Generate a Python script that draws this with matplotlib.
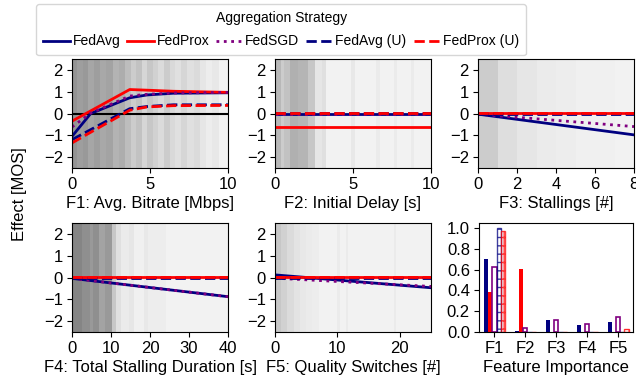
import matplotlib
matplotlib.use('Agg')
import matplotlib.pyplot as plt

plt.rcParams['font.family'] = ['Liberation Sans', 'DejaVu Sans']

strategies = ['FedAvg', 'FedProx', 'FedSGD', 'FedAvg (U)', 'FedProx (U)']
colors = ['#000080', 'red', 'purple', '#000080', 'red']
styles = ['-', '-', ':', '--', '--']

# partial dependence curves (x grid + effect per strategy)
f1_x = [0, 1.2, 3.7, 4.8, 6.5, 10]
f1_y = [[-1.05, 0.0, 0.72, 0.85, 0.93, 0.95],
        [-0.35, 0.12, 1.1, 1.07, 1.02, 0.97],
        [-0.62, 0.02, 0.8, 0.88, 0.94, 0.97],
        [-1.2, -0.74, 0.22, 0.32, 0.4, 0.4],
        [-1.35, -0.86, 0.15, 0.3, 0.36, 0.37]]

f2_x = [0, 10]
f2_y = [[0.0, 0.0], [-0.62, -0.62], [-0.04, -0.04], [0.02, 0.02], [0.03, 0.03]]

f3_x = [0, 8]
f3_y = [[-0.03, -0.98], [0.02, 0.02], [-0.03, -0.6], [0.0, 0.0], [0.02, 0.02]]

f4_x = [0, 40]
f4_y = [[-0.04, -0.88], [0.02, 0.02], [-0.04, -0.88], [0.0, 0.0], [0.02, 0.02]]

f5_x = [0, 25]
f5_y = [[0.12, -0.47], [0.02, 0.02], [-0.03, -0.41], [0.0, 0.0], [0.02, 0.02]]

# data density shading behind each feature
f1_edges = [0, 0.3, 0.7, 1.0, 1.4, 1.8, 2.2, 2.6, 3.0, 3.4, 3.8, 4.1, 4.5, 4.8,
            5.2, 5.5, 5.9, 6.3, 6.6, 7.0, 7.4, 7.8, 8.2, 8.6, 9.0, 9.4, 10]
f1_gray = [0.58, 0.62, 0.6, 0.65, 0.62, 0.66, 0.64, 0.7, 0.68, 0.74, 0.8, 0.76, 0.84,
           0.78, 0.82, 0.86, 0.8, 0.85, 0.88, 0.84, 0.88, 0.86, 0.9, 0.93, 0.91, 0.95]
f2_edges = [0, 0.4, 0.6, 0.95, 1.5, 2.1, 2.55, 3.0, 3.3, 4.9, 5.1, 6.5, 6.7, 7.6, 7.8, 8.7, 8.9, 10]
f2_gray = [0.72, 0.8, 0.76, 0.69, 0.71, 0.78, 0.9, 0.88, 0.95, 0.91, 0.95, 0.92,
           0.95, 0.92, 0.95, 0.92, 0.95]
f3_edges = [0, 1, 2, 3, 4, 5, 6, 7, 8]
f3_gray = [0.8, 0.87, 0.9, 0.92, 0.93, 0.94, 0.94, 0.95]
f4_edges = [0, 2.5, 4.5, 5.5, 7.0, 8.5, 10.2, 11.3, 12.5, 14.5, 16.0, 18.5, 19.5, 24.0, 40]
f4_gray = [0.52, 0.56, 0.6, 0.56, 0.64, 0.6, 0.78, 0.88, 0.92, 0.9, 0.94, 0.91, 0.93, 0.95]
f5_edges = [0, 1, 2, 3, 4, 5, 6, 7, 10, 10.4, 11.3, 11.7, 19, 19.4, 25]
f5_gray = [0.78, 0.82, 0.86, 0.89, 0.91, 0.92, 0.93, 0.95, 0.92, 0.95, 0.92, 0.95, 0.92, 0.95]

xlabels = ['F1: Avg. Bitrate [Mbps]', 'F2: Initial Delay [s]', 'F3: Stallings [#]',
           'F4: Total Stalling Duration [s]', 'F5: Quality Switches [#]']
xticks = [[0, 5, 10], [0, 5, 10], [0, 2, 4, 6, 8], [0, 10, 20, 30, 40], [0, 10, 20]]

# feature importance
features = ['F1', 'F2', 'F3', 'F4', 'F5']
importance = [[0.70, 0.005, 0.12, 0.07, 0.10],
              [0.39, 0.61, 0.0, 0.0, 0.0],
              [0.63, 0.04, 0.12, 0.08, 0.14],
              [1.0, 0.0, 0.0, 0.0, 0.0],
              [0.97, 0.0, 0.0, 0.0, 0.03]]

fig = plt.figure(figsize=(6.36, 3.81), dpi=100)
W, H = 636, 381
pos = [(72, 59), (275, 59), (478, 59), (72, 223), (275, 223)]
panels = [(f1_x, f1_y, f1_edges, f1_gray), (f2_x, f2_y, f2_edges, f2_gray),
          (f3_x, f3_y, f3_edges, f3_gray), (f4_x, f4_y, f4_edges, f4_gray),
          (f5_x, f5_y, f5_edges, f5_gray)]

fs = 12
handles = []
for i, (px, py) in enumerate(pos):
    ax = fig.add_axes([px / W, 1 - (py + 109) / H, 156 / W, 109 / H])
    xs, ys, edges, grays = panels[i]
    for k in range(len(grays)):
        ax.axvspan(edges[k], edges[k + 1], color=str(grays[k]), lw=0, zorder=0)
    if i == 0:
        ax.axhline(0, color='black', lw=1.5, zorder=1)
    for j in range(5):
        l, = ax.plot(xs, ys[j], color=colors[j], ls=styles[j], lw=2, zorder=2)
        if i == 0:
            handles.append(l)
    ax.set_xlim(xs[0], xs[-1])
    ax.set_ylim(-2.5, 2.5)
    ax.set_yticks([-2, -1, 0, 1, 2])
    ax.set_xticks(xticks[i])
    ax.set_xlabel(xlabels[i], fontsize=fs, labelpad=3)
    ax.tick_params(labelsize=fs, pad=3)

# bar chart
ax = fig.add_axes([479 / W, 1 - 332 / H, 154 / W, 109 / H])
bw = 0.13
idx = list(range(len(features)))
for j in range(5):
    xb = [v + (j - 2) * bw for v in idx]
    if j < 2:
        ax.bar(xb, importance[j], bw, color=colors[j], lw=0)
    elif j == 2:
        ax.bar(xb, importance[j], bw, facecolor='none', edgecolor='purple', lw=1.2)
    else:
        ax.bar(xb, importance[j], bw, facecolor='none', edgecolor=colors[j],
               hatch='++', lw=1.0, alpha=0.75)
ax.set_xticks(idx)
ax.set_xticklabels(features)
ax.set_xlim(-0.5, 4.47)
ax.set_ylim(0, 1.05)
ax.set_yticks([0.0, 0.2, 0.4, 0.6, 0.8, 1.0])
ax.set_xlabel('Feature Importance', fontsize=fs, labelpad=3)
ax.tick_params(labelsize=fs, pad=3)

fig.text(0.03, 0.49, 'Effect [MOS]', rotation=90, fontsize=fs, va='center', ha='center')

fig.legend(handles, strategies, loc='upper center', bbox_to_anchor=(0.442, 0.99), ncol=5,
           title='Aggregation Strategy', fontsize=10, title_fontsize=10,
           handlelength=1.9, handletextpad=0.2, columnspacing=0.5, borderpad=0.5,
           borderaxespad=0.0, labelspacing=0.7, fancybox=True)

fig.savefig('out.png', dpi=100)
